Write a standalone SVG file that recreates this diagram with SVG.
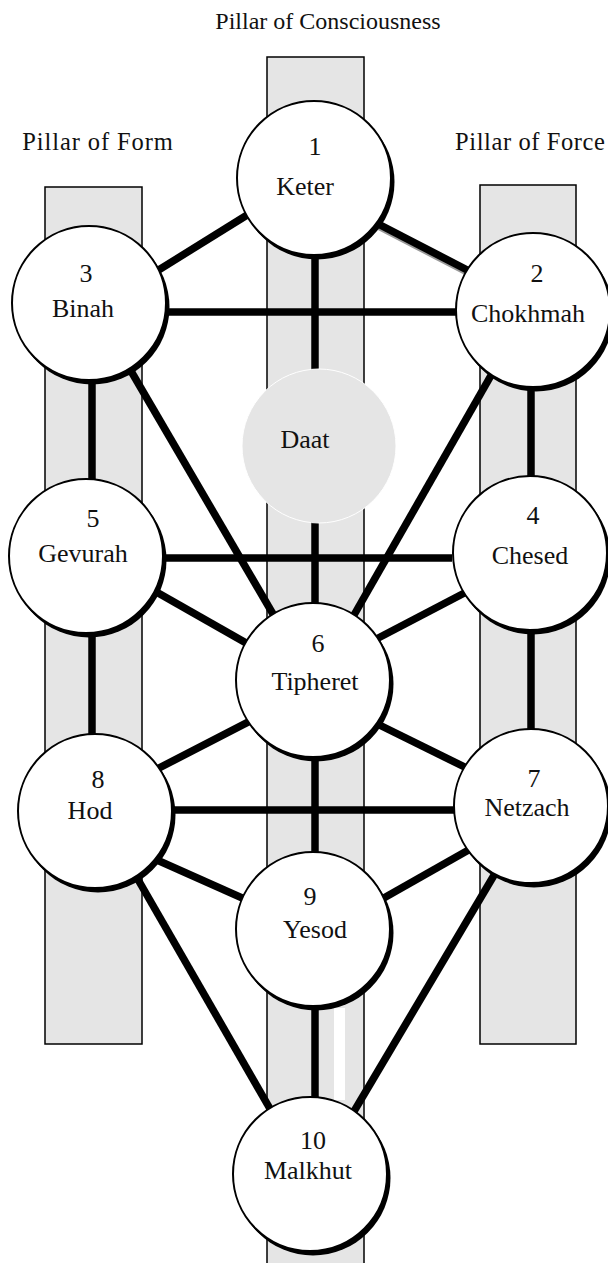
<svg xmlns="http://www.w3.org/2000/svg" width="608" height="1263" viewBox="0 0 608 1263">
<style>
.pillar{fill:#e5e5e5;stroke:#000;stroke-width:1.5}
.c{stroke:#000;stroke-width:7.5;stroke-linecap:butt;fill:none}
.sh{fill:#000}
.node{fill:#fff;stroke:#000;stroke-width:2}
.t{font-family:"Liberation Serif","Times New Roman",serif;font-size:26px;fill:#111;text-anchor:middle}
.title{font-family:"Liberation Serif","Times New Roman",serif;font-size:24px;fill:#111;text-anchor:middle}
.side{font-size:24.5px;letter-spacing:0.9px}
</style>
<rect width="608" height="1263" fill="#fff"/>
<g id="titles">
<text class="title" x="328" y="29">Pillar of Consciousness</text>
<text class="title side" x="98" y="150">Pillar of Form</text>
<text class="title side" x="455" y="150" style="text-anchor:start;letter-spacing:0.6px">Pillar of Force</text>
</g>
<g id="pillars">
<rect class="pillar" x="267" y="57" width="97" height="1220"/>
<rect x="334" y="1008" width="11" height="92" fill="#fff"/>
<rect class="pillar" x="45" y="187" width="97" height="857"/>
<rect class="pillar" x="480" y="185" width="96" height="859"/>
</g>
<g id="connectors">
<line class="c" x1="120" y1="294" x2="260" y2="207"/>
<line x1="330" y1="201" x2="500" y2="289" stroke="#999" stroke-width="7.5"/>
<line class="c" x1="330" y1="199" x2="500" y2="287"/>
<line class="c" x1="167" y1="312" x2="456" y2="312"/>
<line class="c" x1="315" y1="250" x2="315" y2="620"/>
<line class="c" x1="92" y1="375" x2="92" y2="480"/>
<line class="c" x1="531" y1="380" x2="531" y2="478"/>
<line class="c" x1="107" y1="330" x2="294" y2="650"/>
<line class="c" x1="517" y1="330" x2="334" y2="650"/>
<line class="c" x1="164" y1="558" x2="452" y2="558"/>
<line class="c" x1="130" y1="577" x2="290" y2="668"/>
<line class="c" x1="495" y1="577" x2="340" y2="658"/>
<line class="c" x1="92" y1="630" x2="92" y2="735"/>
<line class="c" x1="531" y1="630" x2="531" y2="730"/>
<line class="c" x1="130" y1="783" x2="285" y2="703"/>
<line class="c" x1="345" y1="708" x2="495" y2="782"/>
<line class="c" x1="172" y1="810" x2="454" y2="810"/>
<line class="c" x1="315" y1="750" x2="315" y2="860"/>
<line class="c" x1="130" y1="848" x2="285" y2="917"/>
<line class="c" x1="495" y1="835" x2="345" y2="920"/>
<line class="c" x1="315" y1="1000" x2="315" y2="1105"/>
<line class="c" x1="121" y1="850" x2="288" y2="1140"/>
<line class="c" x1="509" y1="850" x2="337" y2="1140"/>
</g>
<g id="daat">
<circle cx="319" cy="446" r="77" fill="#e5e5e5" stroke="#fff" stroke-width="1"/>
<text class="t" x="305" y="448">Daat</text>
</g>
<g id="keter">
<circle class="sh" cx="317" cy="182" r="77.5"/>
<circle class="node" cx="314" cy="178" r="77"/>
<text class="t" x="315" y="155">1</text>
<text class="t" x="305" y="195">Keter</text>
</g>
<g id="binah">
<circle class="sh" cx="92" cy="307" r="77.5"/>
<circle class="node" cx="89" cy="303" r="77"/>
<text class="t" x="86" y="282">3</text>
<text class="t" x="83" y="317">Binah</text>
</g>
<g id="chokhmah">
<circle class="sh" cx="536" cy="314" r="77.5"/>
<circle class="node" cx="533" cy="310" r="77"/>
<text class="t" x="537" y="282">2</text>
<text class="t" x="528" y="322">Chokhmah</text>
</g>
<g id="gevurah">
<circle class="sh" cx="89" cy="560" r="77.5"/>
<circle class="node" cx="86" cy="556" r="77"/>
<text class="t" x="93" y="527">5</text>
<text class="t" x="83" y="562">Gevurah</text>
</g>
<g id="chesed">
<circle class="sh" cx="533" cy="557" r="77.5"/>
<circle class="node" cx="530" cy="553" r="77"/>
<text class="t" x="533" y="524">4</text>
<text class="t" x="530" y="564">Chesed</text>
</g>
<g id="tipheret">
<circle class="sh" cx="316" cy="684" r="77.5"/>
<circle class="node" cx="313" cy="680" r="77"/>
<text class="t" x="318" y="652">6</text>
<text class="t" x="315" y="690">Tipheret</text>
</g>
<g id="hod">
<circle class="sh" cx="98" cy="815" r="77.5"/>
<circle class="node" cx="95" cy="811" r="77"/>
<text class="t" x="98" y="788">8</text>
<text class="t" x="90" y="819">Hod</text>
</g>
<g id="netzach">
<circle class="sh" cx="534" cy="810" r="77.5"/>
<circle class="node" cx="531" cy="806" r="77"/>
<text class="t" x="534" y="787">7</text>
<text class="t" x="527" y="816">Netzach</text>
</g>
<g id="yesod">
<circle class="sh" cx="316" cy="933" r="77.5"/>
<circle class="node" cx="313" cy="929" r="77"/>
<text class="t" x="310" y="905">9</text>
<text class="t" x="315" y="938">Yesod</text>
</g>
<g id="malkhut">
<circle class="sh" cx="313" cy="1178" r="77.5"/>
<circle class="node" cx="310" cy="1174" r="77"/>
<text class="t" x="313" y="1149">10</text>
<text class="t" x="308" y="1179">Malkhut</text>
</g>
</svg>
